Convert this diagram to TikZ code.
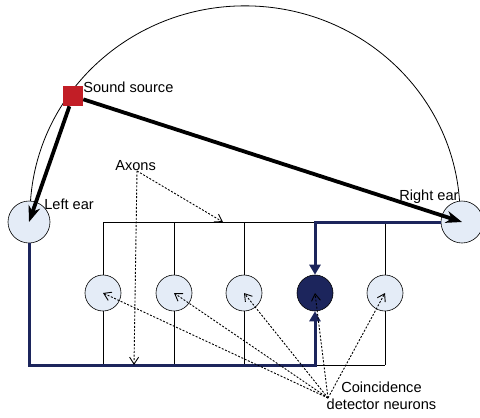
\documentclass[tikz,border=0pt]{standalone}
\usepackage{fontspec}
\setmainfont{Liberation Sans}
\usepackage{tikz}
\usetikzlibrary{arrows.meta}

\definecolor{navy}{RGB}{28,37,92}
\definecolor{earfill}{RGB}{228,236,247}
\definecolor{srcred}{RGB}{194,30,38}

\begin{document}
\begin{tikzpicture}[
                        x=1pt,
                        y=-1pt,
                        font=\fontsize{14.6}{17}\selectfont,
                        semithick
                    ]
                    \tikzstyle{every node}=[inner sep=0pt]
                    \tikzstyle{ear}=[circle,draw=black,fill=earfill,minimum size=42pt]
                    \tikzstyle{neuron}=[circle,draw=black,fill=earfill,minimum size=36pt]
                    \tikzstyle{fired}=[neuron,fill=navy]
                    \tikzstyle{axon}=[draw=black,line width=0.8pt]
                    \tikzstyle{spike}=[draw=navy,line width=3pt,-{Triangle[length=10pt,width=11pt]}]
                    \tikzstyle{sound}=[draw=black,line width=3.8pt,-{Stealth[length=16pt,width=12pt,inset=5pt]}]
                    \tikzstyle{pointer}=[line width=0.9pt,dash pattern=on 2pt off 1.6pt,
                                         -{Straight Barb[length=7pt,width=9pt]}]

                    \useasboundingbox (0,0) rectangle (480,418);

                    % half circle round the head
                    \draw[line width=0.8pt] (30.5,201) arc[start angle=176.2, end angle=3.8,
                                                           x radius=215pt, y radius=209pt];

                    \node[ear] (lear) at (29,222)  {} ;
                    \node[ear] (rear) at (462,222) {} ;

                    \foreach \x/\s [count=\i] in {103/neuron,174/neuron,244/neuron,315/fired,385/neuron} {
                        \node[\s] (n\i) at (\x,293) {} ;
                        \coordinate (t\i) at (\x,222) ;
                        \coordinate (b\i) at (\x,365) ;
                    }

                    % delay lines
                    \draw[axon] (t1) -- (t5) ;
                    \draw[axon] (b4) -- (b5) ;
                    \foreach \i in {1,2,3,5}
                        \draw[axon] (t\i) -- (n\i) (n\i) -- (b\i) ;

                    \draw[spike] (lear) |- (b4) -- (n4) ;
                    \draw[spike] (rear) -| (n4) ;

                    \node[fill=srcred,minimum size=20pt] (src) at (73,96) {} ;
                    \draw[sound] (src) -- (lear.center) ;
                    \draw[sound] (src) -- (rear.center) ;

                    \node[anchor=base west] (srctxt)  at (83,92)   {Sound source} ;
                    \node[anchor=base west] (leartxt) at (44,209)  {Left ear} ;
                    \node[anchor=base west] (reartxt) at (399,200) {Right ear} ;
                    \node[anchor=base west] (axtxt)   at (115,170) {Axons} ;
                    \node[anchor=north,align=center] (cdtxt) at (381.5,381.5) {Coincidence\\detector neurons} ;

                    \coordinate (axfrom) at (137,171) ;
                    \coordinate (axbot)  at (134,365) ;
                    \coordinate (axtop)  at (223,222) ;
                    \coordinate (cdfrom) at (328,398) ;

                    \draw[pointer] (axfrom) -- (axbot) ;
                    \draw[pointer] (axfrom) -- (axtop) ;
                    \foreach \i in {1,...,5}
                        \draw[pointer] (cdfrom) -- (n\i.center) ;

                \end{tikzpicture}
\end{document}
